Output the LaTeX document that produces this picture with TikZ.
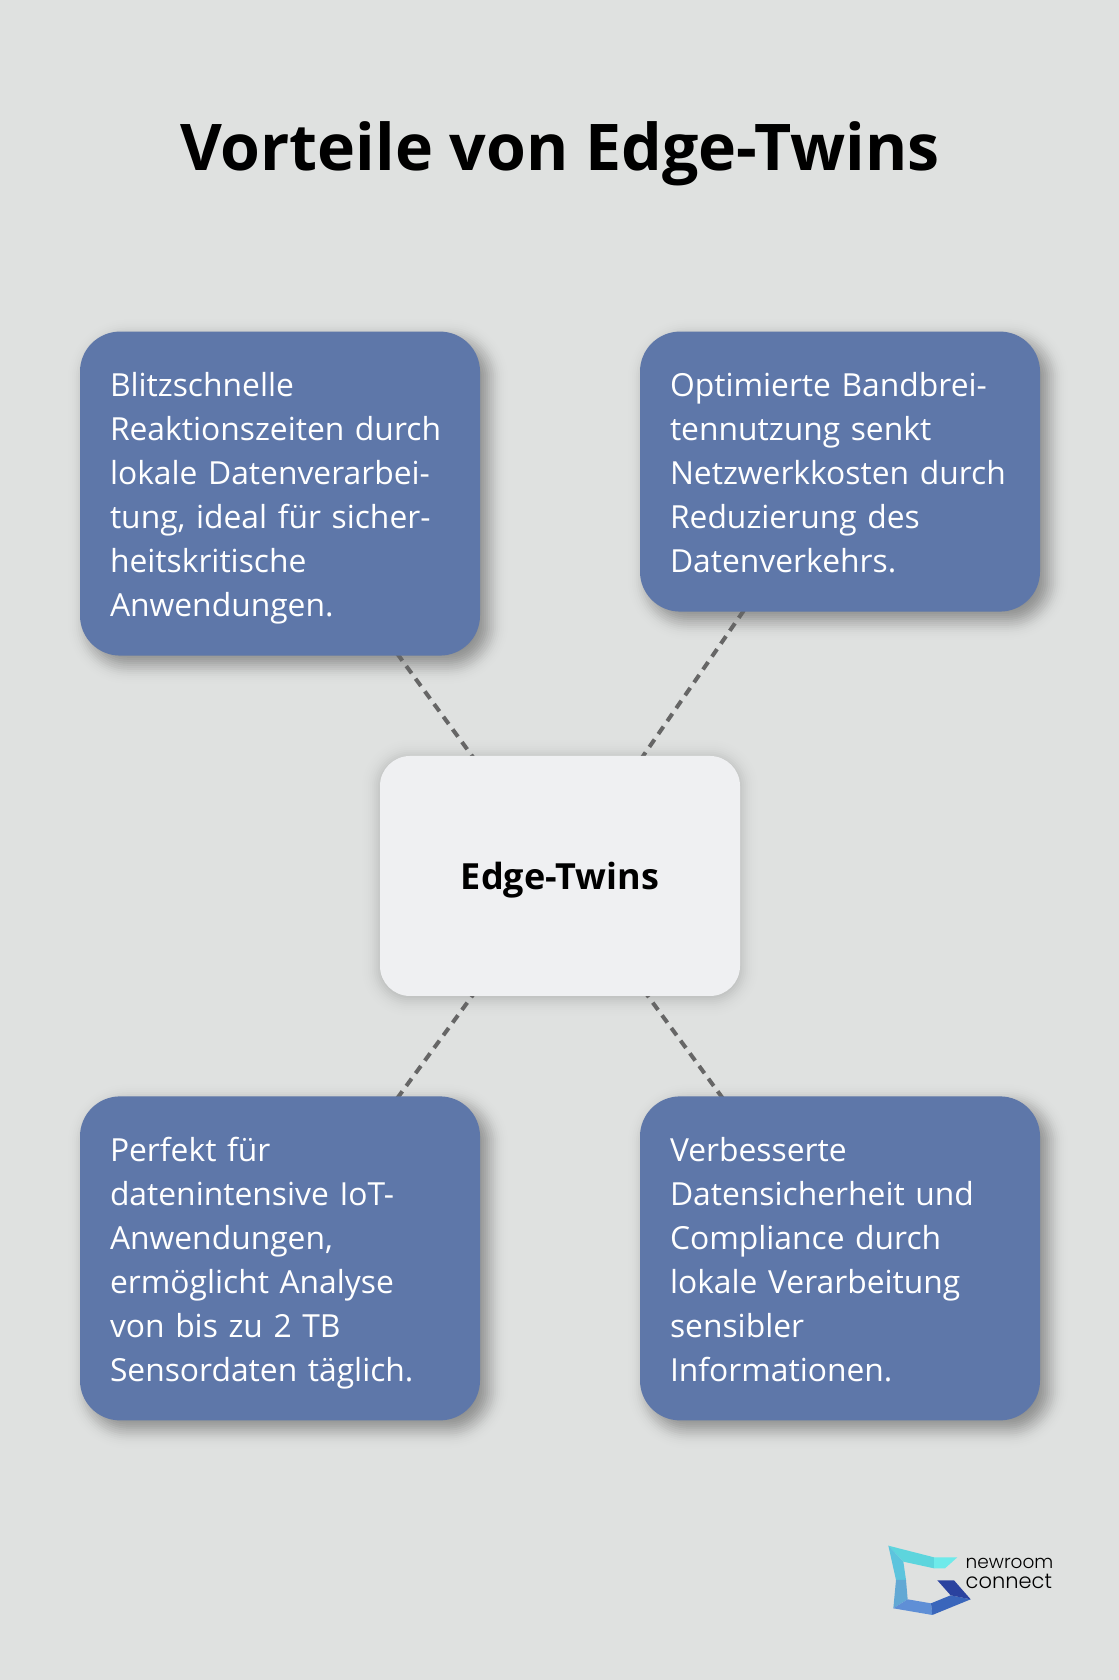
\documentclass[tikz,border=0pt]{standalone}
\usepackage{fontspec}
\setmainfont{Open Sans}
\newfontfamily\logofont{Poppins Light}
\usetikzlibrary{positioning, backgrounds}
\definecolor{pagegray}{HTML}{DFE1E0}
\definecolor{boxblue}{HTML}{5E77A9}
\definecolor{boxlight}{HTML}{EFF0F2}
\definecolor{linegray}{HTML}{666666}
\newcommand{\softshadow}[5]{%
	\foreach \s [evaluate=\s as \rad using #4+\s, evaluate=\s as \sm using 0-\s, evaluate=\s as \op using #5*exp(0-(\s)*(\s)/144)] in {-28,-26,...,28}
		\fill[black,fill opacity=\op,rounded corners=\rad pt] ([shift={(#2+\sm,#3+\sm)}]#1.south west) rectangle ([shift={(#2+\s,#3+\s)}]#1.north east);
}

\begin{document}
\begin{tikzpicture}[x=1pt,y=1pt,
		bluenode/.style={rectangle,rounded corners=40pt,fill=boxblue,text=white,inner sep=0pt,minimum width=400pt,text width=340pt,align=left,font=\fontsize{31.8}{44}\selectfont,execute at begin node={\rule{0pt}{34pt}},execute at end node={\rule[-8pt]{0pt}{8pt}}},
		centernode/.style={rectangle,rounded corners=30pt,fill=boxlight,inner sep=0pt,minimum width=360pt,minimum height=240pt,text height=28pt,text depth=0pt,font=\fontsize{36}{40}\selectfont\bfseries},
		dashline/.style={draw=linegray,line width=4pt,dash pattern=on 9pt off 6.7pt}]
		\useasboundingbox (0,0) rectangle (1118.2,1680);
		\node[anchor=base,font=\fontsize{64.4}{70}\selectfont\bfseries]	(title)	at (560,1509)	{Vorteile von Edge-Twins};
		\node[centernode]														(20)	at (560,804)	{Edge-Twins};
		\node[bluenode,minimum height=324pt,node distance=100pt,above=of 20,xshift=-280pt]	(10)	{Blitzschnelle\\Reaktionszeiten durch\\lokale Datenverarbei-\\tung, ideal für sicher-\\heitskritische\\Anwendungen.};
		\node[bluenode,minimum height=280pt,node distance=144pt,above=of 20,xshift=280pt]	(11)	{Optimierte Bandbrei-\\tennutzung senkt\\Netzwerkkosten durch\\Reduzierung des\\Datenverkehrs.};
		\node[bluenode,minimum height=324pt,node distance=100pt,below=of 20,xshift=-280pt]	(30)	{Perfekt für\\datenintensive IoT-\\Anwendungen,\\ermöglicht Analyse\\von bis zu 2 TB\\Sensordaten täglich.};
		\node[bluenode,minimum height=324pt,node distance=100pt,below=of 20,xshift=280pt]	(31)	{Verbesserte\\Datensicherheit und\\Compliance durch\\lokale Verarbeitung\\sensibler\\Informationen.};

		\begin{scope}[on background layer]
			\fill[pagegray] (0,0) rectangle (1120,1680);
			\softshadow{10}{8}{-8}{40}{0.038}
			\softshadow{11}{8}{-8}{40}{0.038}
			\softshadow{30}{8}{-8}{40}{0.038}
			\softshadow{31}{8}{-8}{40}{0.038}
			\softshadow{20}{0}{-2}{30}{0.019}
			\draw[dashline] (20.center) -- (10.center);
			\draw[dashline] (20.center) -- (11.center);
			\draw[dashline] (20.center) -- (30.center);
			\draw[dashline] (20.center) -- (31.center);
		\end{scope}

		\begin{scope}[shift={(860,160)},x=0.3333pt,y=-0.3333pt]
			\fill[fill={rgb,255:red,93;green,213;blue,221}]		(85,77) -- (222,112) -- (222,145) -- (130,125) -- cycle;
			\fill[fill={rgb,255:red,110;green,234;blue,234}]	(222,112) -- (292,112) -- (255,145) -- (222,145) -- cycle;
			\fill[fill={rgb,255:red,92;green,196;blue,221}]		(85,77) -- (130,125) -- (138,180) -- (108,180) -- cycle;
			\fill[fill={rgb,255:red,98;green,168;blue,212}]		(108,180) -- (138,180) -- (143,238) -- (100,265) -- cycle;
			\fill[fill={rgb,255:red,95;green,143;blue,214}]		(100,265) -- (143,238) -- (213,250) -- (217,285) -- cycle;
			\fill[fill={rgb,255:red,58;green,102;blue,187}]		(213,250) -- (272,226) -- (332,238) -- (217,285) -- cycle;
			\fill[fill={rgb,255:red,42;green,66;blue,159}]		(232,181) -- (282,181) -- (332,238) -- (272,226) -- cycle;
		\end{scope}
		\node[anchor=base west,inner sep=0pt,font=\fontsize{18.5}{20}\logofont]	(40)	at (965.5,111)	{newroom};
		\node[anchor=base west,inner sep=0pt,font=\fontsize{21}{22}\logofont]	(41)	at (965.5,91.5)	{connect};
	\end{tikzpicture}%
\end{document}
